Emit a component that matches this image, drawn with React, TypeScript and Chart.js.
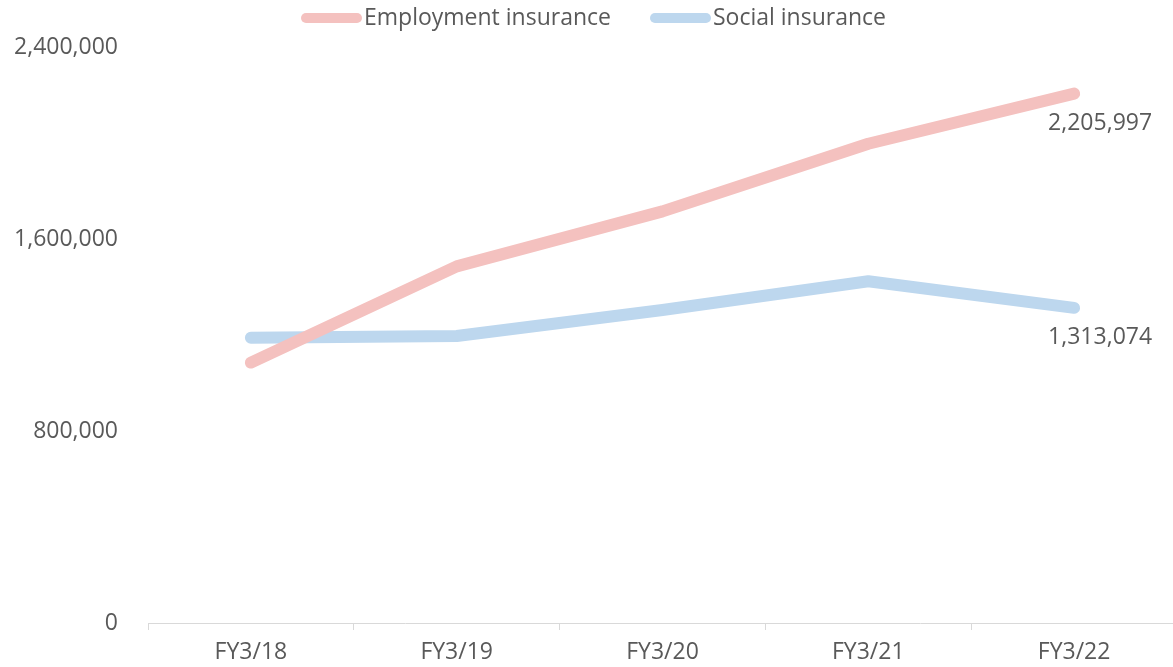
import React, { useEffect, useRef } from "react";
import { Chart, registerables } from "chart.js";

Chart.register(...registerables);

const categories = ["FY3/18", "FY3/19", "FY3/20", "FY3/21", "FY3/22"];
const employmentInsurance = [1085000, 1486000, 1715000, 1997000, 2205997];
const socialInsurance = [1189000, 1196000, 1304000, 1424000, 1313074];
const yTicks = [0, 800000, 1600000, 2400000];

const TEXT = "#595959";
const FONT = "'Open Sans', sans-serif";
const PINK = "#F4C1BF";
const BLUE = "#BDD7EE";

const lastLabelPlugin = {
  id: "lastLabel",
  afterDatasetsDraw(chart: any) {
    const ctx = chart.ctx;
    ctx.save();
    ctx.font = `23px ${FONT}`;
    ctx.fillStyle = TEXT;
    ctx.textAlign = "center";
    ctx.textBaseline = "middle";
    chart.data.datasets.forEach((ds: any, i: number) => {
      const meta = chart.getDatasetMeta(i);
      const n = ds.data.length - 1;
      const pt = meta.data[n];
      if (!pt) return;
      ctx.fillText(Number(ds.data[n]).toLocaleString("en-US"), pt.x + 26, pt.y + 30);
    });
    ctx.restore();
  },
};

const customLegendPlugin = {
  id: "customLegend",
  afterDraw(chart: any) {
    const ctx = chart.ctx;
    ctx.save();
    ctx.font = `23px ${FONT}`;
    const sample = 61;
    const textGap = 2;
    const itemGap = 39;
    const items = chart.data.datasets.map((ds: any) => ({
      text: ds.label,
      color: ds.borderColor,
      w: ctx.measureText(ds.label).width,
    }));
    const total =
      items.reduce((a: number, it: any) => a + sample + textGap + it.w, 0) +
      itemGap * (items.length - 1);
    let x = 593.5 - total / 2;
    const y = 18;
    items.forEach((it: any) => {
      ctx.strokeStyle = it.color;
      ctx.lineWidth = 10;
      ctx.lineCap = "round";
      ctx.beginPath();
      ctx.moveTo(x + 5, y);
      ctx.lineTo(x + sample - 5, y);
      ctx.stroke();
      x += sample + textGap;
      ctx.fillStyle = TEXT;
      ctx.textAlign = "left";
      ctx.textBaseline = "middle";
      ctx.fillText(it.text, x, y);
      x += it.w + itemGap;
    });
    ctx.restore();
  },
};

export default function App() {
  const ref = useRef<HTMLCanvasElement | null>(null);
  useEffect(() => {
    if (!ref.current) return;
    const chart = new Chart(ref.current, {
      type: "line",
      data: {
        labels: categories,
        datasets: [
          {
            label: "Employment insurance",
            data: employmentInsurance,
            borderColor: PINK,
            backgroundColor: PINK,
            borderWidth: 12,
            borderCapStyle: "round",
            borderJoinStyle: "round",
            pointRadius: 0,
            tension: 0,
          },
          {
            label: "Social insurance",
            data: socialInsurance,
            borderColor: BLUE,
            backgroundColor: BLUE,
            borderWidth: 12,
            borderCapStyle: "round",
            borderJoinStyle: "round",
            pointRadius: 0,
            tension: 0,
          },
        ],
      },
      options: {
        animation: false,
        responsive: true,
        maintainAspectRatio: false,
        layout: { padding: { left: 0, right: 0, top: 47, bottom: 0 } },
        plugins: {
          tooltip: { enabled: false },
          legend: { display: false },
        },
        scales: {
          x: {
            offset: true,
            afterFit: (s: any) => {
              s.height = 44;
            },
            grid: {
              display: true,
              offset: true,
              drawOnChartArea: false,
              drawTicks: true,
              tickLength: 7,
              color: "#D9D9D9",
            },
            border: { display: true, color: "#D9D9D9", width: 1 },
            ticks: {
              color: TEXT,
              font: { family: FONT, size: 23 },
              padding: 9,
              maxRotation: 0,
            },
          },
          y: {
            min: 0,
            max: 2400000,
            grid: { display: false },
            border: { display: false },
            afterFit: (s: any) => {
              s.width = 148;
            },
            afterBuildTicks: (s: any) => {
              s.ticks = yTicks.map((v) => ({ value: v }));
            },
            ticks: {
              color: TEXT,
              font: { family: FONT, size: 23 },
              padding: 22,
              callback: (v: any) => Number(v).toLocaleString("en-US"),
            },
          },
        },
      },
      plugins: [lastLabelPlugin, customLegendPlugin],
    } as any);
    return () => chart.destroy();
  }, []);
  return (
    <div style={{ position: "fixed", left: 0, top: 0, width: 1177, height: 667, background: "#fff" }}>
      <canvas ref={ref} />
    </div>
  );
}
